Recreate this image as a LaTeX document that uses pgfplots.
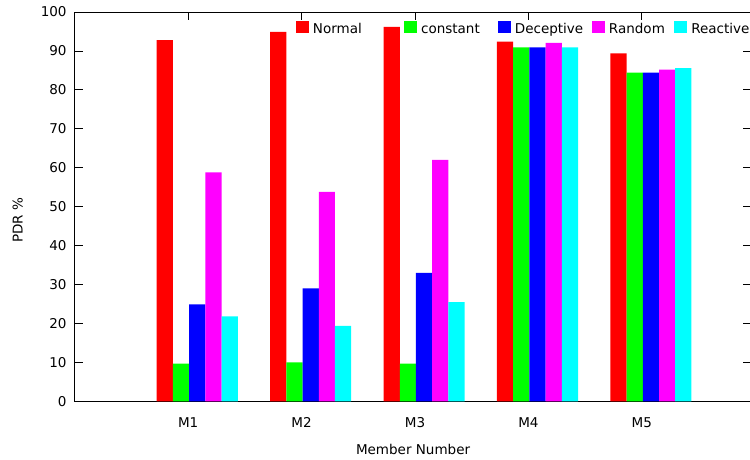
\documentclass[border=0pt]{standalone}
\usepackage{fontspec}
\setmainfont{DejaVu Sans}
\usepackage{pgfplots}
\pgfplotsset{compat=1.18}
\definecolor{gpred}{RGB}{255,0,0}
\definecolor{gpgreen}{RGB}{0,255,0}
\definecolor{gpblue}{RGB}{0,0,255}
\definecolor{gpmag}{RGB}{255,0,255}
\definecolor{gpcyan}{RGB}{0,255,255}
\pgfplotsset{
  sq/.style={legend image code/.code={\fill[##1,draw=none] (0bp,0bp) rectangle (13bp,12.7bp);}},
}
\begin{document}
\begin{tikzpicture}[font=\fontsize{13.5bp}{16bp}\selectfont]
\begin{axis}[name=ax,
  scale only axis, width=676bp, height=389bp,
  xmin=0, xmax=5.966, ymin=0, ymax=100,
  xtick={1,2,3,4,5}, xticklabels={M1,M2,M3,M4,M5},
  ytick={0,10,...,100},
  tick align=inside, major tick length=8bp,
  /pgf/number format/assume math mode=true,
  axis line style={line width=0.8bp, black},
  every tick/.style={line width=0.8bp, black},
  yticklabel style={inner sep=0pt, anchor=east, xshift=-8bp},
  xticklabel style={inner sep=0pt, anchor=base, yshift=-26bp},
  xlabel={Member Number}, ylabel={PDR \%},
  xlabel style={at={(axis description cs:0.5,0)}, anchor=base, yshift=-53bp, inner sep=0pt},
  ylabel style={at={(axis description cs:0,0.465)}, anchor=base, yshift=52bp, inner sep=0pt},
  bar width=0.1429,
  legend columns=5,
  legend cell align=left,
  legend style={at={(axis description cs:0.3269,1)}, anchor=north west, yshift=-8.7bp,
    draw=none, fill=none, inner sep=0pt, outer sep=0pt,
    /tikz/every even column/.style={column sep=0pt},
    nodes={inner sep=0pt, anchor=base west}},
]
\addplot[ybar, bar shift=-0.2058, fill=gpred, draw=none, sq] coordinates {(1,92.8) (2,94.9) (3,96.2) (4,92.4) (5,89.4)};
\addplot[ybar, bar shift=-0.0629, fill=gpgreen, draw=none, sq] coordinates {(1,9.7) (2,10.0) (3,9.7) (4,90.9) (5,84.4)};
\addplot[ybar, bar shift=0.08, fill=gpblue, draw=none, sq] coordinates {(1,24.9) (2,29.0) (3,33.0) (4,90.9) (5,84.4)};
\addplot[ybar, bar shift=0.2229, fill=gpmag, draw=none, sq] coordinates {(1,58.8) (2,53.8) (3,62.0) (4,92.1) (5,85.2)};
\addplot[ybar, bar shift=0.3658, fill=gpcyan, draw=none, sq] coordinates {(1,21.8) (2,19.4) (3,25.5) (4,90.9) (5,85.6)};
\legend{\makebox[95bp][l]{\hspace*{4bp}Normal},
        \makebox[80.7bp][l]{\hspace*{4bp}constant},
        \makebox[81bp][l]{\hspace*{4bp}Deceptive},
        \makebox[69.3bp][l]{\hspace*{4bp}Random},
        \makebox[60bp][l]{\hspace*{4bp}Reactive}}
\end{axis}
\pgfresetboundingbox
\path ([shift={(-74.7bp,-58bp)}]ax.south west) rectangle ([shift={(-1.4bp,12bp)}]ax.north east);
\end{tikzpicture}
\end{document}
